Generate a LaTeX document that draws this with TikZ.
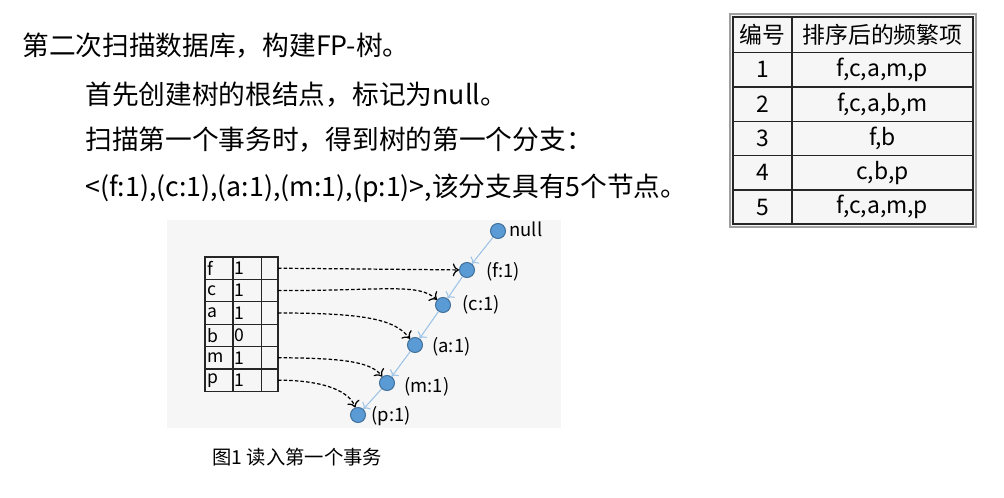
\documentclass[tikz,border=0pt]{standalone}
\usepackage{fontspec}
\setmainfont{Noto Sans CJK SC}
\usetikzlibrary{arrows.meta}

\definecolor{nodeblue}{HTML}{5B9BD5}
\definecolor{nodeline}{HTML}{41719C}
\definecolor{edgeblue}{HTML}{9DC3E6}

\begin{document}
\begin{tikzpicture}[
    x=0.02cm, y=-0.02cm,
    every node/.style={inner sep=0pt},
    bodytext/.style={anchor=west, font=\fontsize{15.2}{18}\selectfont},
    tcell/.style={draw=black!85, line width=0.8pt, anchor=north west, outer sep=0pt,
                  minimum height=0.686cm, font=\fontsize{13}{15}\selectfont},
    icell/.style={draw=black!85, line width=0.6pt, anchor=north west, outer sep=0pt,
                  inner xsep=0.04cm, text width=#1, align=left,
                  minimum height=0.448cm, font=\fontsize{10}{11}\selectfont},
    treenode/.style={circle, fill=nodeblue, draw=nodeline, line width=0.6pt,
                     minimum size=0.3cm},
    treelabel/.style={anchor=west, font=\fontsize{10.5}{12}\selectfont},
    treeedge/.style={-{To[length=3pt]}, draw=edgeblue, line width=0.6pt},
    ptr/.style={-{To[length=3.5pt]}, line width=0.7pt,
                dash pattern=on 2pt off 1.2pt},
]

\useasboundingbox (0,0) rectangle (1004,497);

% === Text on the left ===
\node[bodytext] (line1) at (22,46)  {第二次扫描数据库，构建FP-树。};
\node[bodytext] (line2) at (85,95)  {首先创建树的根结点，标记为null。};
\node[bodytext] (line3) at (85,140) {扫描第一个事务时，得到树的第一个分支：};
\node[bodytext] (line4) at (85,188) {<(f:1),(c:1),(a:1),(m:1),(p:1)>,该分支具有5个节点。};

% === Table of sorted transactions (top right) ===
\fill[gray!7] (730,14) rectangle (976,227);
\draw[gray!75, line width=1.4pt] (730,14) rectangle (976,227);

\node[tcell, minimum width=1.18cm, minimum height=0.714cm] (id-0) at (733,17) {编号};
\node[tcell, minimum width=3.62cm, minimum height=0.714cm] (items-0) at (id-0.north east) {排序后的频繁项};
\foreach \items [count=\n] in {{f,c,a,m,p},{f,c,a,b,m},{f,b},{c,b,p},{f,c,a,m,p}} {
    \pgfmathtruncatemacro{\prev}{\n-1}
    \node[tcell, minimum width=1.18cm] (id-\n) at (id-\prev.south west) {\n};
    \node[tcell, minimum width=3.62cm] (items-\n) at (id-\n.north east) {\items};
}

% === Figure 1: item header table and first branch ===
\fill[gray!7] (167,220) rectangle (561,428);

% Parameters
\def\Tleft{205}
\def\Ttop{257}
\def\Trow{22.4}

% header table rows
\foreach \item/\cnt [count=\i from 0] in {f/1,c/1,a/1,b/0,m/1,p/1} {
    \node[icell=0.48cm] (name-\item) at (\Tleft,{\Ttop+\i*\Trow}) {\item};
    \node[icell=0.486cm] (cnt-\item) at (name-\item.north east) {\cnt};
    \node[icell=0.254cm] (ptr-\item) at (cnt-\item.north east) {};
}

% tree nodes
\node[treenode] (null) at (498,231) {};
\node[treenode] (f) at (467,270) {};
\node[treenode] (c) at (443,305) {};
\node[treenode] (a) at (415,345) {};
\node[treenode] (m) at (387,383) {};
\node[treenode] (p) at (358,415) {};

\node[treelabel] (null-lbl) at (509,229) {null};
\node[treelabel] (f-lbl) at (486,272) {(f:1)};
\node[treelabel] (c-lbl) at (462,305) {(c:1)};
\node[treelabel] (a-lbl) at (432,347) {(a:1)};
\node[treelabel] (m-lbl) at (404,387) {(m:1)};
\node[treelabel] (p-lbl) at (371,416) {(p:1)};

% branch edges
\draw[treeedge] (null) -- (f);
\draw[treeedge] (f) -- (c);
\draw[treeedge] (c) -- (a);
\draw[treeedge] (a) -- (m);
\draw[treeedge] (m) -- (p);

% node links from the header table
\draw[ptr] (ptr-f.east) -- (f);
\draw[ptr] (ptr-c.east) .. controls +(110,0) and +(-25,-22) .. (c);
\draw[ptr] (ptr-a.east) .. controls +(90,0) and +(-20,-25) .. (a);
\draw[ptr] (ptr-m.east) .. controls +(70,0) and +(-15,-20) .. (m);
\draw[ptr] (ptr-p.east) .. controls +(50,0) and +(-8,-22) .. (p);

% caption
\node[anchor=west, font=\fontsize{11}{13}\selectfont] (caption) at (212,457) {图1 读入第一个事务};

\end{tikzpicture}
\end{document}
